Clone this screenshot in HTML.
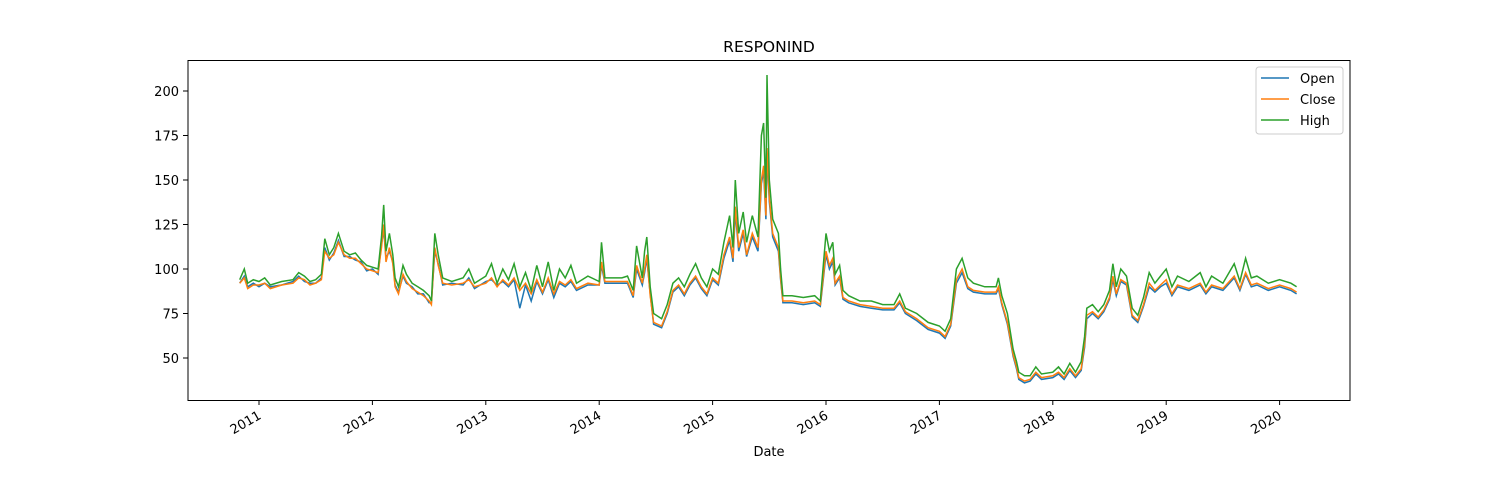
<!DOCTYPE html>
<html><head><meta charset="utf-8"><style>
body{margin:0;background:#fff;font-family:"DejaVu Sans","Liberation Sans",sans-serif;}
svg text{font-family:"DejaVu Sans","Liberation Sans",sans-serif;font-size:13px;fill:#000}
</style></head><body>
<svg id="chart" width="1500" height="500">
<text x="769" y="52" text-anchor="middle" style="font-size:15.5px">RESPONIND</text>
<g id="plot"></g>
<g id="xaxis"></g>
<g id="yaxis"></g>
<rect x="188" y="60.5" width="1162" height="340" fill="none" stroke="#000" stroke-width="1"/>
<text x="769" y="456" text-anchor="middle">Date</text>
<g>
<rect x="1256" y="67" width="87" height="67" rx="3" fill="#fff" stroke="#ccc"/>
<g><line x1="1261" x2="1289" y1="78" y2="78" stroke="#1f77b4" stroke-width="1.5"/><text x="1300" y="83">Open</text></g>
<g><line x1="1261" x2="1289" y1="99" y2="99" stroke="#ff7f0e" stroke-width="1.5"/><text x="1300" y="104">Close</text></g>
<g><line x1="1261" x2="1289" y1="120" y2="120" stroke="#2ca02c" stroke-width="1.5"/><text x="1300" y="125">High</text></g>
</g>
</svg>
<script>
const dates=[2010.83,2010.87,2010.9,2010.95,2011.0,2011.05,2011.1,2011.2,2011.3,2011.35,2011.4,2011.45,2011.5,2011.55,2011.58,2011.62,2011.66,2011.7,2011.75,2011.8,2011.85,2011.9,2011.95,2012.0,2012.05,2012.08,2012.1,2012.12,2012.15,2012.18,2012.2,2012.23,2012.27,2012.3,2012.35,2012.4,2012.45,2012.5,2012.52,2012.55,2012.58,2012.62,2012.7,2012.8,2012.85,2012.9,2013.0,2013.05,2013.1,2013.15,2013.2,2013.25,2013.3,2013.35,2013.4,2013.45,2013.5,2013.55,2013.6,2013.65,2013.7,2013.75,2013.8,2013.9,2014.0,2014.02,2014.05,2014.2,2014.25,2014.3,2014.33,2014.38,2014.4,2014.42,2014.45,2014.48,2014.55,2014.6,2014.65,2014.7,2014.75,2014.8,2014.85,2014.9,2014.95,2015.0,2015.05,2015.1,2015.15,2015.18,2015.2,2015.23,2015.27,2015.3,2015.35,2015.4,2015.43,2015.45,2015.47,2015.48,2015.5,2015.53,2015.58,2015.6,2015.62,2015.7,2015.8,2015.9,2015.95,2016.0,2016.03,2016.06,2016.08,2016.12,2016.15,2016.2,2016.3,2016.4,2016.5,2016.6,2016.65,2016.7,2016.8,2016.9,2017.0,2017.05,2017.1,2017.15,2017.2,2017.25,2017.3,2017.4,2017.5,2017.52,2017.55,2017.6,2017.65,2017.68,2017.7,2017.75,2017.8,2017.85,2017.9,2018.0,2018.05,2018.1,2018.15,2018.2,2018.25,2018.28,2018.3,2018.35,2018.4,2018.45,2018.5,2018.53,2018.56,2018.6,2018.65,2018.7,2018.75,2018.8,2018.85,2018.9,2018.95,2019.0,2019.05,2019.1,2019.2,2019.3,2019.35,2019.4,2019.5,2019.6,2019.65,2019.7,2019.75,2019.8,2019.9,2020.0,2020.1,2020.15];
const high=[94,100,92,94,93,95,91,93,94,98,96,93,94,97,117,108,112,120,110,108,109,105,102,101,100,118,136,110,120,108,95,90,102,97,92,90,88,85,82,120,108,95,93,95,100,92,96,103,92,100,94,103,90,98,88,102,90,104,88,100,95,102,92,96,93,115,95,95,96,88,113,95,110,118,90,75,72,80,92,95,90,97,103,95,90,100,97,115,130,112,150,120,132,115,130,118,175,182,140,209,150,128,120,100,85,85,84,85,82,120,110,115,97,102,88,85,82,82,80,80,86,78,75,70,68,65,72,100,106,95,92,90,90,95,85,75,55,48,42,40,40,45,41,42,45,41,47,42,48,62,78,80,76,80,88,103,90,100,96,78,74,84,98,92,96,100,90,96,93,98,90,96,92,103,93,106,95,96,92,94,92,90];
const close=[92,95,89,91,91,92,89,91,92,95,94,91,92,94,110,106,108,115,108,106,106,103,100,99,98,112,125,104,112,103,90,86,97,93,89,87,85,82,80,112,102,92,91,92,94,90,92,95,90,94,91,95,88,92,86,94,87,95,86,93,91,94,89,92,91,104,93,93,93,85,102,92,100,108,85,70,68,76,88,91,86,92,96,90,86,95,92,108,118,106,135,112,122,108,120,112,150,158,130,168,140,120,112,95,82,82,81,82,80,110,102,106,92,96,84,82,80,79,78,78,82,76,72,67,65,62,69,94,100,90,88,87,87,90,81,70,52,45,39,37,38,42,39,40,42,39,44,40,44,58,74,76,73,77,84,96,86,94,92,74,71,80,92,88,91,94,86,91,89,92,87,91,89,96,89,98,91,92,89,91,89,87];
const open=[92,96,90,92,90,92,90,91,93,96,93,92,92,95,112,105,109,116,107,107,105,104,99,100,97,114,122,106,110,104,91,87,96,92,90,86,86,81,81,110,103,91,92,91,95,89,93,94,91,93,90,94,78,91,82,93,86,94,84,92,90,93,88,91,91,102,92,92,92,84,100,91,98,106,86,69,67,75,87,90,85,91,95,89,85,94,91,106,116,104,132,110,120,107,118,110,148,155,128,165,138,118,110,94,81,81,80,81,79,108,100,104,91,95,83,81,79,78,77,77,81,75,71,66,64,61,68,92,98,89,87,86,86,89,80,69,51,44,38,36,37,41,38,39,41,38,43,39,43,56,72,75,72,76,83,94,85,93,91,73,70,79,90,87,90,92,85,90,88,91,86,90,88,95,88,97,90,91,88,90,88,86];
const xTicks=[2011,2012,2013,2014,2015,2016,2017,2018,2019,2020];
const yTicks=[50,75,100,125,150,175,200];
const NS='http://www.w3.org/2000/svg';
function X(t){return 259+(t-2011)*113.4;}
function Y(v){return 358-(v-50)*1.78;}
const plot=document.getElementById('plot');
function line(vals,color,name){
  const p=document.createElementNS(NS,'path');
  p.setAttribute('d',vals.map((v,i)=>(i?'L':'M')+X(dates[i]).toFixed(1)+' '+Y(v).toFixed(1)).join(''));
  p.setAttribute('fill','none');p.setAttribute('stroke',color);p.setAttribute('stroke-width','1.5');
  
  
  plot.appendChild(p);
}
line(open,'#1f77b4','series-open');
line(close,'#ff7f0e','series-close');
line(high,'#2ca02c','series-high');
const xa=document.getElementById('xaxis');
xTicks.forEach(t=>{
  const g=document.createElementNS(NS,'g');
  
  
  const x=X(t);
  g.innerHTML=`<line x1="${x}" x2="${x}" y1="400" y2="405" stroke="#000"/><text transform="translate(${x+3},${418}) rotate(-30)" text-anchor="end">${t}</text>`;
  xa.appendChild(g);
});
const ya=document.getElementById('yaxis');
yTicks.forEach(v=>{
  const g=document.createElementNS(NS,'g');
  
  
  const y=Y(v);
  g.innerHTML=`<line x1="183" x2="188" y1="${y}" y2="${y}" stroke="#000"/><text x="179" y="${y+5}" text-anchor="end">${v}</text>`;
  ya.appendChild(g);
});
</script>
</body></html>
